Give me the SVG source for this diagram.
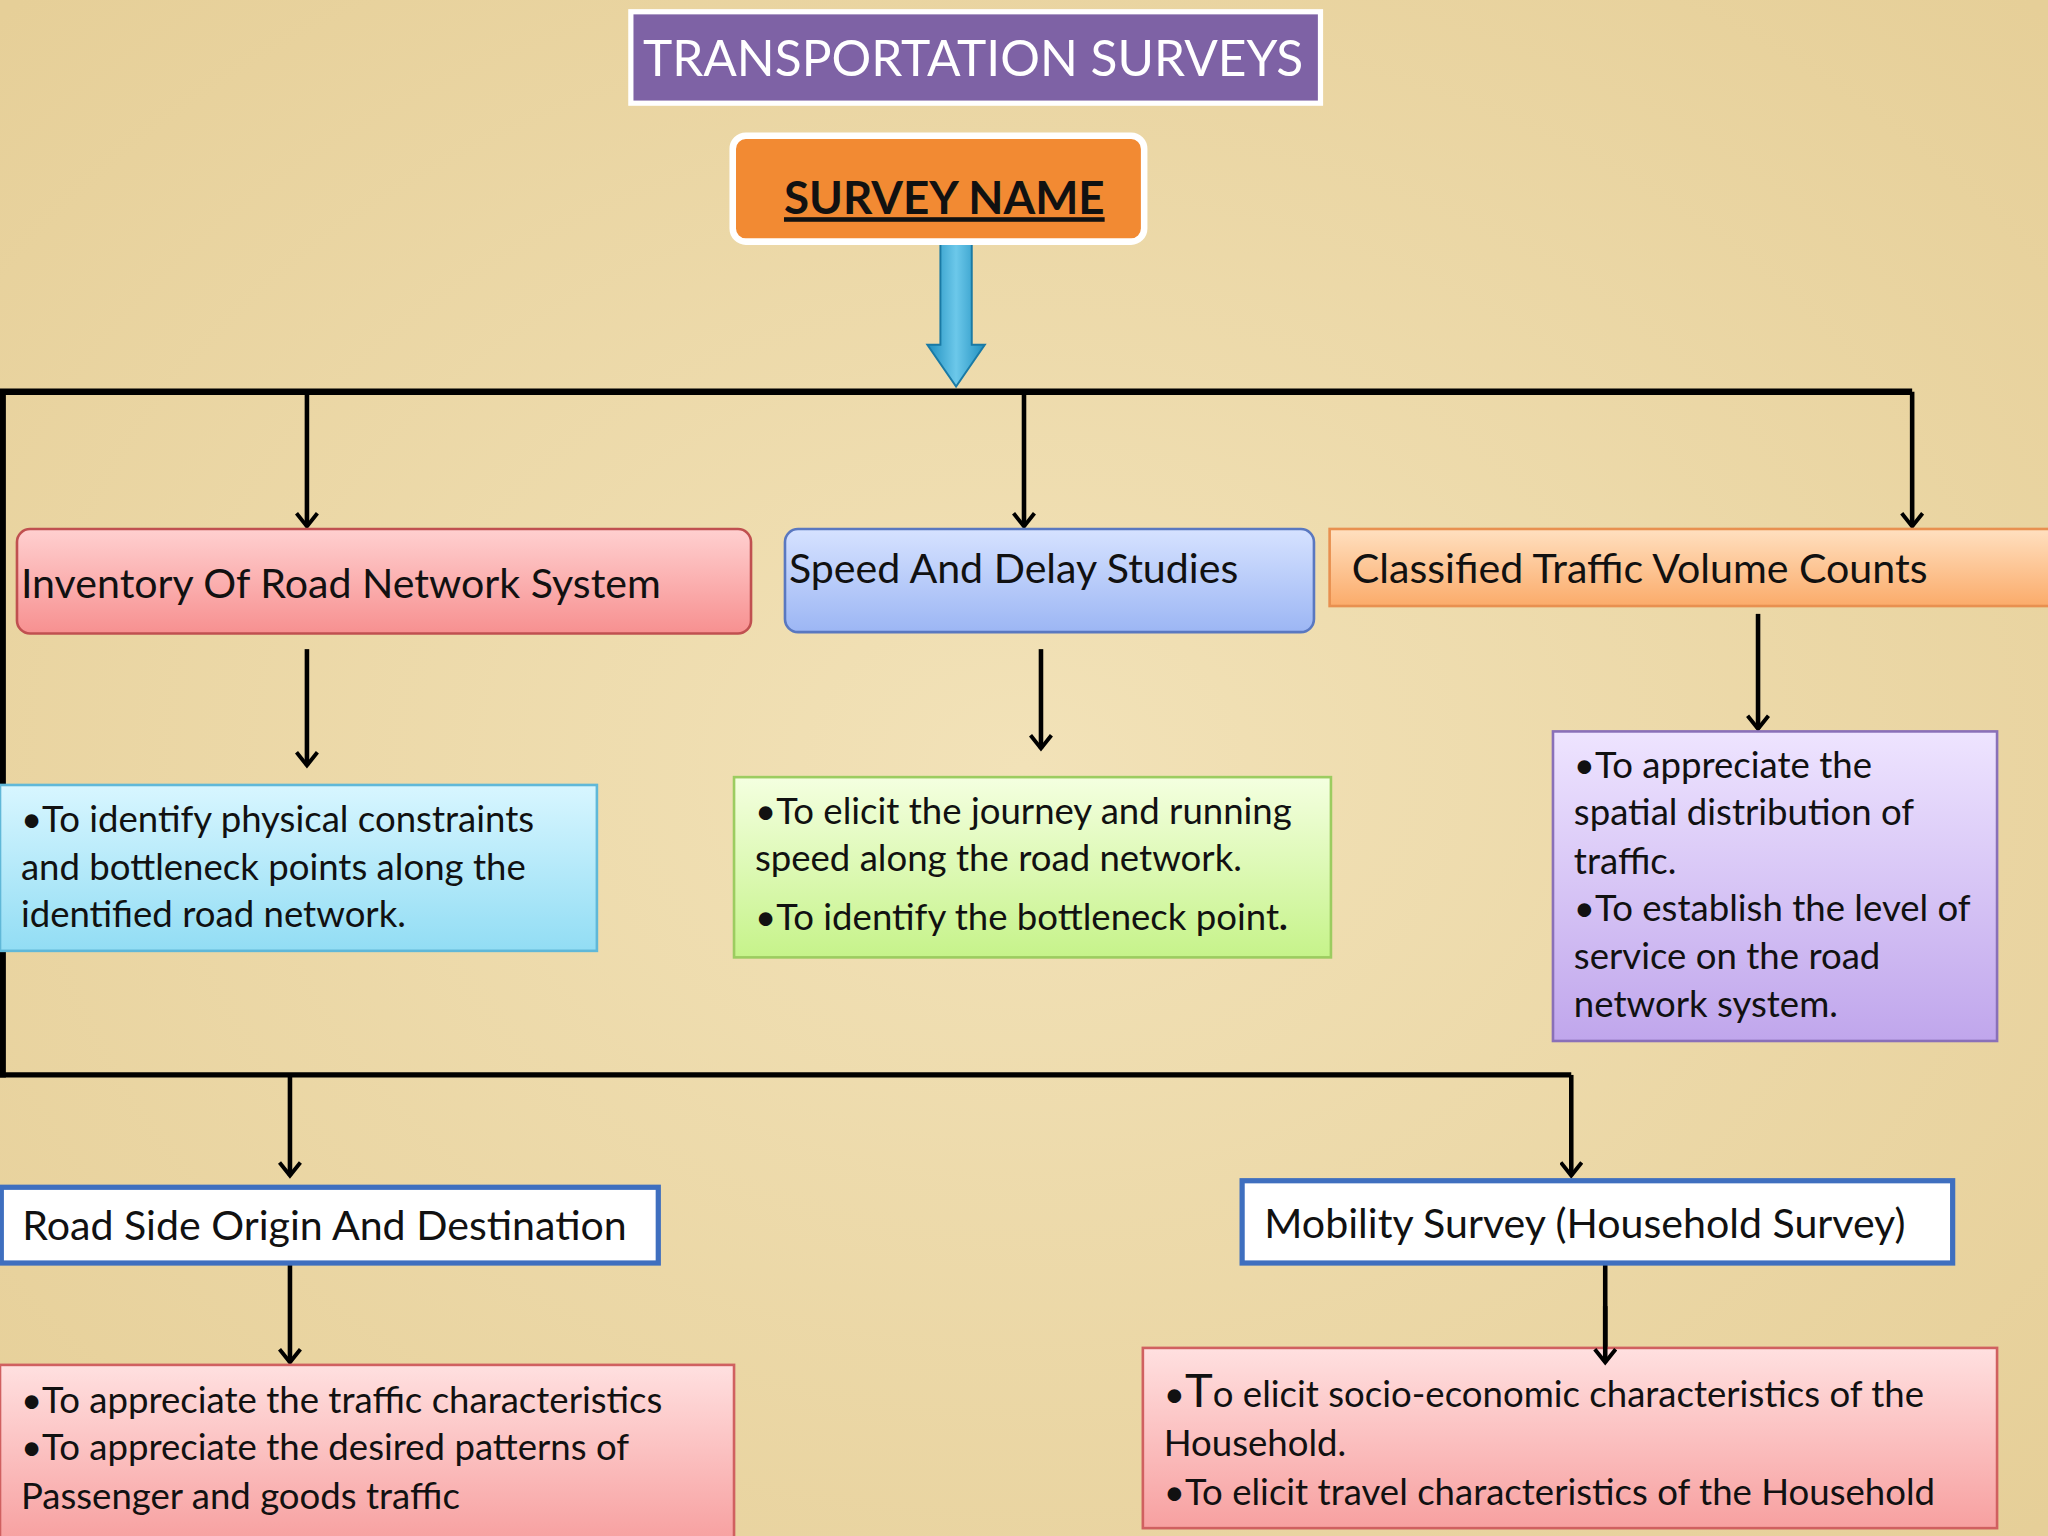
<svg xmlns="http://www.w3.org/2000/svg" width="2048" height="1536" viewBox="0 0 2048 1536">
<defs>
<style>
text{font-family:Lato,"Open Sans","Liberation Sans",sans-serif;fill:#111}
.ln{stroke:#000;stroke-width:4;fill:none}
.ar{stroke:#000;stroke-width:3.5;fill:none;marker-end:url(#ah)}
.t30{font-size:31.5px}.t27{font-size:28px}
</style>
<marker id="ah" markerWidth="14" markerHeight="18" refX="11" refY="9" orient="auto" markerUnits="userSpaceOnUse" viewBox="0 0 14 18"><path d="M1,1 L11,9 L1,17" stroke="#000" stroke-width="3" fill="none"/></marker>
<radialGradient id="bg" cx="50%" cy="50%" r="70%"><stop offset="0" stop-color="#f2e2b8"/><stop offset="1" stop-color="#e6cf98"/></radialGradient>
<linearGradient id="pk" x1="0" y1="0" x2="0" y2="1"><stop offset="0" stop-color="#ffd0d0"/><stop offset="1" stop-color="#f79090"/></linearGradient>
<linearGradient id="bl" x1="0" y1="0" x2="0" y2="1"><stop offset="0" stop-color="#d6e2ff"/><stop offset="1" stop-color="#9cb6f4"/></linearGradient>
<linearGradient id="or" x1="0" y1="0" x2="0" y2="1"><stop offset="0" stop-color="#ffe0c0"/><stop offset="1" stop-color="#fbab6a"/></linearGradient>
<linearGradient id="cy" x1="0" y1="0" x2="0" y2="1"><stop offset="0" stop-color="#d8f6ff"/><stop offset="1" stop-color="#92ddf4"/></linearGradient>
<linearGradient id="gr" x1="0" y1="0" x2="0" y2="1"><stop offset="0" stop-color="#f4ffe0"/><stop offset="1" stop-color="#c6f38a"/></linearGradient>
<linearGradient id="pu" x1="0" y1="0" x2="0" y2="1"><stop offset="0" stop-color="#eee4ff"/><stop offset="1" stop-color="#c0a6ec"/></linearGradient>
<linearGradient id="pk2" x1="0" y1="0" x2="0" y2="1"><stop offset="0" stop-color="#ffe0e0"/><stop offset="1" stop-color="#f7a0a0"/></linearGradient>
<linearGradient id="ba" x1="0" y1="0" x2="1" y2="0"><stop offset="0" stop-color="#1f8fbf"/><stop offset="0.5" stop-color="#6cc8ea"/><stop offset="1" stop-color="#1f8fbf"/></linearGradient>
</defs>
<rect width="2048" height="1536" fill="url(#bg)"/>
<g transform="scale(1.30612)">
<g id="connectors">
<path d="M720,186 h24 v78 h10 l-22,32 l-22,-32 h10 z" fill="url(#ba)" stroke="#1a7aa5" stroke-width="1.5"/>
<path class="ln" d="M0,300 H1464 M2,300 V825" style="stroke-width:5"/>
<path class="ar" d="M235,300 V403"/><path class="ar" d="M784,300 V403"/><path class="ar" d="M1464,300 V403"/>
<path class="ar" d="M235,497 V586"/><path class="ar" d="M797,497 V573"/><path class="ar" d="M1346,470 V558"/>
<path class="ln" d="M0,823 H1203"/>
<path class="ar" d="M222,823 V900"/><path class="ar" d="M1203,823 V900"/><path class="ar" d="M222,967 V1043"/><path class="ar" d="M1229,967 V1043"/>
</g>
<g id="title"><rect x="483" y="9" width="528" height="70" fill="#7e62a5" stroke="#fff" stroke-width="4"/><text x="745" y="58" text-anchor="middle" style="font-size:38px;fill:#fff">TRANSPORTATION SURVEYS</text></g>
<g id="surveyname"><rect x="561" y="104" width="315" height="81" rx="10" fill="#f28a33" stroke="#fff" stroke-width="5"/><text x="723" y="164" text-anchor="middle" text-decoration="underline" style="font-size:35px;font-weight:bold">SURVEY NAME</text></g>
<g id="n1"><rect x="13" y="405" width="562" height="80" rx="10" fill="url(#pk)" stroke="#c05050" stroke-width="2"/><text class="t30" x="16" y="458">Inventory Of Road Network System</text></g>
<g id="n2"><rect x="601" y="405" width="405" height="79" rx="10" fill="url(#bl)" stroke="#5a78c0" stroke-width="2"/><text class="t30" x="604" y="446">Speed And Delay Studies</text></g>
<g id="n3"><rect x="1018" y="405" width="552" height="59" fill="url(#or)" stroke="#e89050" stroke-width="2"/><text class="t30" x="1035" y="446">Classified Traffic Volume Counts</text></g>
<g id="n4"><rect x="0" y="601" width="457" height="127" fill="url(#cy)" stroke="#60b8d8" stroke-width="2"/><text class="t27" x="16" y="637">•To identify physical constraints</text><text class="t27" x="16" y="674"> and bottleneck points along the</text><text class="t27" x="16" y="710">identified road  network.</text></g>
<g id="n5"><rect x="562" y="595" width="457" height="138" fill="url(#gr)" stroke="#9ccc60" stroke-width="2"/><text class="t27" x="578" y="631">•To elicit the journey and running</text><text class="t27" x="578" y="667">speed along the road network.</text><text class="t27" x="578" y="712">•To identify the bottleneck point<tspan style="font-weight:bold">.</tspan></text></g>
<g id="n6"><rect x="1189" y="560" width="340" height="237" fill="url(#pu)" stroke="#8a70b8" stroke-width="2"/><text class="t27" x="1205" y="596">•To  appreciate the</text><text class="t27" x="1205" y="632">spatial distribution of</text><text class="t27" x="1205" y="669">traffic.</text><text class="t27" x="1205" y="705">•To establish the level of</text><text class="t27" x="1205" y="742">service on the road</text><text class="t27" x="1205" y="779">network system.</text></g>
<g id="n7"><rect x="1" y="909" width="503" height="58" fill="#fff" stroke="#3f6fbf" stroke-width="4"/><text class="t30" x="17" y="949">Road Side Origin And Destination</text></g>
<g id="n8"><rect x="951" y="904" width="544" height="63" fill="#fff" stroke="#3f6fbf" stroke-width="4"/><text class="t30" x="968" y="948">Mobility Survey (Household Survey)</text></g>
<g id="n9"><rect x="0" y="1045" width="562" height="135" fill="url(#pk2)" stroke="#d06060" stroke-width="2"/><text class="t27" x="16" y="1082">•To appreciate the traffic characteristics</text><text class="t27" x="16" y="1118">•To appreciate the desired patterns of</text><text class="t27" x="16" y="1155">Passenger and goods traffic</text></g>
<g id="n10"><rect x="875" y="1032" width="654" height="138" fill="url(#pk2)" stroke="#d06060" stroke-width="2"/><text class="t27" x="891" y="1077">•<tspan style="font-size:36px">T</tspan>o elicit socio-economic characteristics of the</text><text class="t27" x="891" y="1115">Household.</text><text class="t27" x="891" y="1152">•To elicit travel characteristics of the Household</text></g>
<path class="ar" d="M1229,1000 V1043"/>
</g>
</svg>
